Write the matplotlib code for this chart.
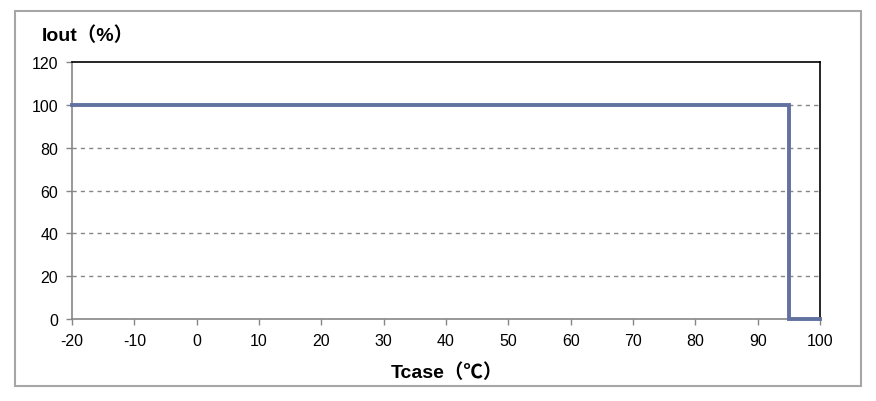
import matplotlib
matplotlib.use("Agg")
import matplotlib.pyplot as plt
from matplotlib.patches import Rectangle

# derating curve: output current vs case temperature
tcase = [-20, 95, 95, 100]
iout = [100, 100, 0, 0]
x_ticks = list(range(-20, 101, 10))
y_ticks = list(range(0, 121, 20))

LINE_COLOR = "#6171a0"
FONTS = ["Liberation Sans Narrow", "Liberation Sans", "Noto Sans CJK SC", "DejaVu Sans"]

plt.rcParams["font.family"] = FONTS
plt.rcParams["axes.unicode_minus"] = False

fig = plt.figure(figsize=(8.76, 4.02), dpi=100)
fig.patches.append(Rectangle((0.0171, 0.0373), 0.966, 0.933, transform=fig.transFigure,
                             fill=False, edgecolor="#a6a6a6", linewidth=1.5))

ax = fig.add_axes([0.0822, 0.204, 0.854, 0.639])
ax.plot(tcase, iout, color=LINE_COLOR, linewidth=2.8, solid_joinstyle="miter", clip_on=False, zorder=3)

ax.set_xlim(-20, 100)
ax.set_ylim(0, 120)
ax.set_xticks(x_ticks)
ax.set_yticks(y_ticks)
ax.tick_params(direction="out", length=4, width=1, color="#868686", labelsize=11.5, pad=6)

for y in y_ticks[1:-1]:
    ax.axhline(y, color="#868686", linestyle=(0, (3, 3)), linewidth=1, zorder=1)

ax.spines["top"].set_color("#000000")
ax.spines["right"].set_color("#000000")
ax.spines["left"].set_color("#868686")
ax.spines["bottom"].set_color("#868686")
for s in ax.spines.values():
    s.set_linewidth(1.2)

fig.text(0.048, 0.912, "Iout（%）", fontsize=14, fontweight="bold", va="center", ha="left")
fig.text(0.51, 0.072, "Tcase（℃）", fontsize=14, fontweight="bold", va="center", ha="center")

fig.savefig("out.png", dpi=100)
